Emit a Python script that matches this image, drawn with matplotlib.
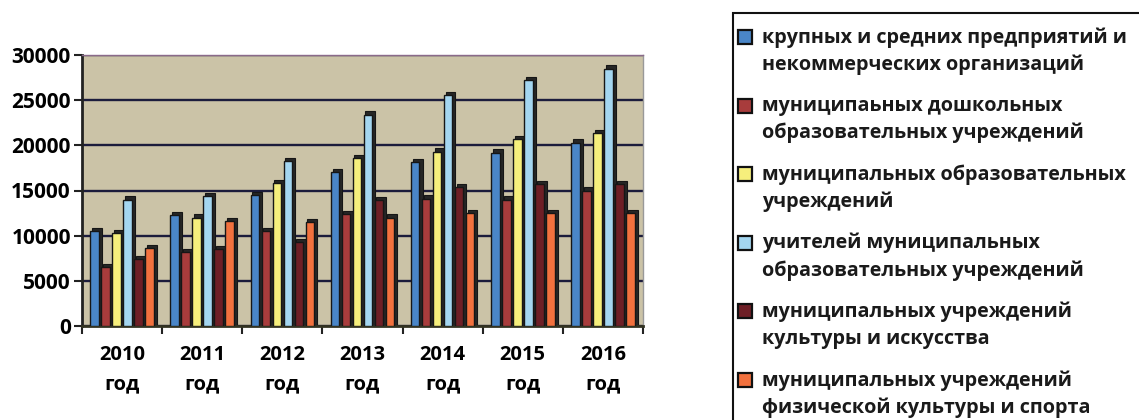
# Среднемесячная заработная плата по категориям работников, 2010-2016
import numpy as np
import matplotlib
matplotlib.use("Agg")
import matplotlib.pyplot as plt
from matplotlib.patches import Rectangle

plt.rcParams["font.family"] = ["Open Sans", "DejaVu Sans"]
plt.rcParams["font.weight"] = "bold"

years = ["2010\nгод", "2011\nгод", "2012\nгод", "2013\nгод", "2014\nгод", "2015\nгод", "2016\nгод"]

series_names = [
    "крупных и средних предприятий и\nнекоммерческих организаций",
    "муниципаьных дошкольных\nобразовательных учреждений",
    "муниципальных образовательных\nучреждений",
    "учителей муниципальных\nобразовательных учреждений",
    "муниципальных учреждений\nкультуры и искусства",
    "муниципальных учреждений\nфизической культуры и спорта",
]

krupnye = [10500, 12300, 14500, 17000, 18100, 19200, 20300]
doshkolnye = [6500, 8200, 10500, 12400, 14100, 14000, 15000]
obrazovat = [10300, 12000, 15800, 18600, 19300, 20700, 21400]
uchitelya = [14000, 14400, 18300, 23400, 25600, 27200, 28500]
kultura = [7400, 8500, 9300, 13900, 15400, 15700, 15700]
sport = [8600, 11600, 11500, 12000, 12500, 12500, 12500]

values = [krupnye, doshkolnye, obrazovat, uchitelya, kultura, sport]
colors = ["#4a86c8", "#a83c3c", "#f6ef7c", "#a4d6f0", "#6e1f26", "#f2713e"]

W, H = 1139, 420
fig = plt.figure(figsize=(W / 100, H / 100), dpi=100)
ax = fig.add_axes([82/W, 1-326/H, (643-82)/W, (326-55)/H])
ax.set_facecolor("#cbc3a7")

x = np.arange(len(years))
w = 0.137
for i, (vals, col) in enumerate(zip(values, colors)):
    pos = x + (i - 2.5) * w
    # тёмная "объёмная" грань
    ax.bar(pos + 0.03, np.array(vals) + 350, width=w * 0.9, color="#262626",
           edgecolor="#161616", linewidth=0.8, zorder=2)
    ax.bar(pos, vals, width=w * 0.78, color=col, edgecolor="#161616",
           linewidth=1.0, zorder=3)

ax.set_xlim(-0.5, len(years) - 0.5)
ax.set_ylim(0, 30000)
ax.set_yticks(np.arange(0, 30001, 5000))
ax.yaxis.grid(True, color="#1c1c3c", linewidth=1.7)
ax.set_axisbelow(True)

ax.set_xticks(x)
ax.set_xticklabels(years, fontsize=14.5, fontweight="bold", linespacing=1.6)
ax.set_xticks(np.arange(-0.5, len(years)), minor=True)
ax.tick_params(axis="x", which="major", length=0, pad=14)
ax.tick_params(axis="x", which="minor", length=6, width=1.5, color="#222222")
ax.tick_params(axis="y", length=6, width=1.5, color="#222222", labelsize=15, pad=2)
for lab in ax.get_yticklabels():
    lab.set_fontweight("bold")

ax.spines["left"].set_linewidth(2)
ax.spines["left"].set_color("#222222")
ax.spines["bottom"].set_linewidth(2)
ax.spines["bottom"].set_color("#333322")
ax.spines["top"].set_linewidth(1)
ax.spines["top"].set_color("#8a6a8a")
ax.spines["right"].set_linewidth(1)
ax.spines["right"].set_color("#999999")

# легенда: рамка выходит за край рисунка, как на скане
fig.add_artist(Rectangle((733/W, -0.1), 0.5, 1 - 13/H + 0.1, transform=fig.transFigure,
                         facecolor="white", edgecolor="#111111", linewidth=1.5,
                         clip_on=False))
for k, (name, col) in enumerate(zip(series_names, colors)):
    y_first = 37 + k * 68.6
    fig.add_artist(Rectangle((738/W, 1 - (y_first + 7) / H), 14/W, 14/H,
                             transform=fig.transFigure, facecolor=col,
                             edgecolor="#111111", linewidth=1.6))
    fig.text(762/W, 1 - (y_first + 14) / H, name, fontsize=14.2, fontweight="bold",
             va="center", ha="left", linespacing=1.45, color="#1a1a1a")

fig.savefig("out.png", dpi=100)
